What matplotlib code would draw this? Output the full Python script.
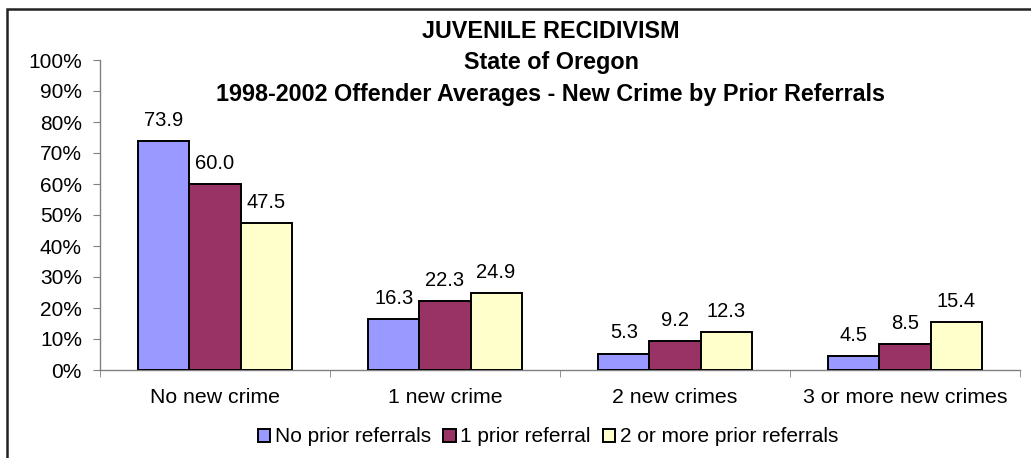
import matplotlib
matplotlib.use("Agg")
import matplotlib.pyplot as plt
from matplotlib.patches import Rectangle
import numpy as np

plt.rcParams['font.family'] = ['Liberation Sans', 'DejaVu Sans']

categories = ["No new crime", "1 new crime", "2 new crimes", "3 or more new crimes"]
series_names = ["No prior referrals", "1 prior referral", "2 or more prior referrals"]
no_prior = [73.9, 16.3, 5.3, 4.5]
one_prior = [60.0, 22.3, 9.2, 8.5]
two_plus_prior = [47.5, 24.9, 12.3, 15.4]
yticks = [0, 10, 20, 30, 40, 50, 60, 70, 80, 90, 100]
ytick_labels = [f"{v}%" for v in yticks]
title_lines = ["JUVENILE RECIDIVISM", "State of Oregon",
               "1998-2002 Offender Averages - New Crime by Prior Referrals"]

colors = ["#9999FF", "#993366", "#FFFFCC"]
series = [no_prior, one_prior, two_plus_prior]

fig = plt.figure(figsize=(10.31, 4.58), dpi=100)
ax = fig.add_axes([100/1031, 1 - 370/458, 920/1031, 310/458])

centers = np.arange(len(categories)) + 0.5
bw = 0.222
handles = []
for i, (vals, col, name) in enumerate(zip(series, colors, series_names)):
    x = centers + (i - 1) * bw
    bars = ax.bar(x, vals, width=bw, color=col, edgecolor="black", linewidth=1.4, label=name, zorder=3)
    handles.append(bars)
    for xi, v in zip(x, vals):
        ax.annotate(f"{v:.1f}", (xi, v), xytext=(0, 8), textcoords="offset points",
                    ha="center", va="bottom", fontsize=14.5)

ax.set_xlim(0, len(categories))
ax.set_ylim(0, 100)
ax.set_yticks(yticks)
ax.set_yticklabels(ytick_labels, fontsize=15)
ax.set_xticks(centers)
ax.set_xticklabels(categories, fontsize=15.3)
ax.set_xticks(np.arange(len(categories) + 1), minor=True)
ax.tick_params(axis='x', which='major', length=0, pad=13)
ax.tick_params(axis='x', which='minor', length=5, direction='out', color='#808080')
ax.tick_params(axis='y', length=5, direction='out', color='#808080', pad=8)
for s in ["top", "right"]:
    ax.spines[s].set_visible(False)
for s in ["left", "bottom"]:
    ax.spines[s].set_color("#808080")
    ax.spines[s].set_linewidth(1.0)

ys = [32, 63, 95]
for t, yy in zip(title_lines, ys):
    fig.text(551/1031, 1 - yy/458, t, ha="center", va="center", fontsize=16.8, fontweight="bold")

leg = fig.legend(handles=handles, loc="center", bbox_to_anchor=(548/1031, 1 - 437/458),
                 ncol=3, frameon=False, fontsize=15, handlelength=0.6, handleheight=0.6,
                 handletextpad=0.2, columnspacing=0.6)

fig.patches.append(Rectangle((7/1031, -0.1), 1.2, 1.1 - 9/458, transform=fig.transFigure,
                             fill=False, edgecolor="#222222", linewidth=1.8))

fig.savefig("out.png", dpi=100)
